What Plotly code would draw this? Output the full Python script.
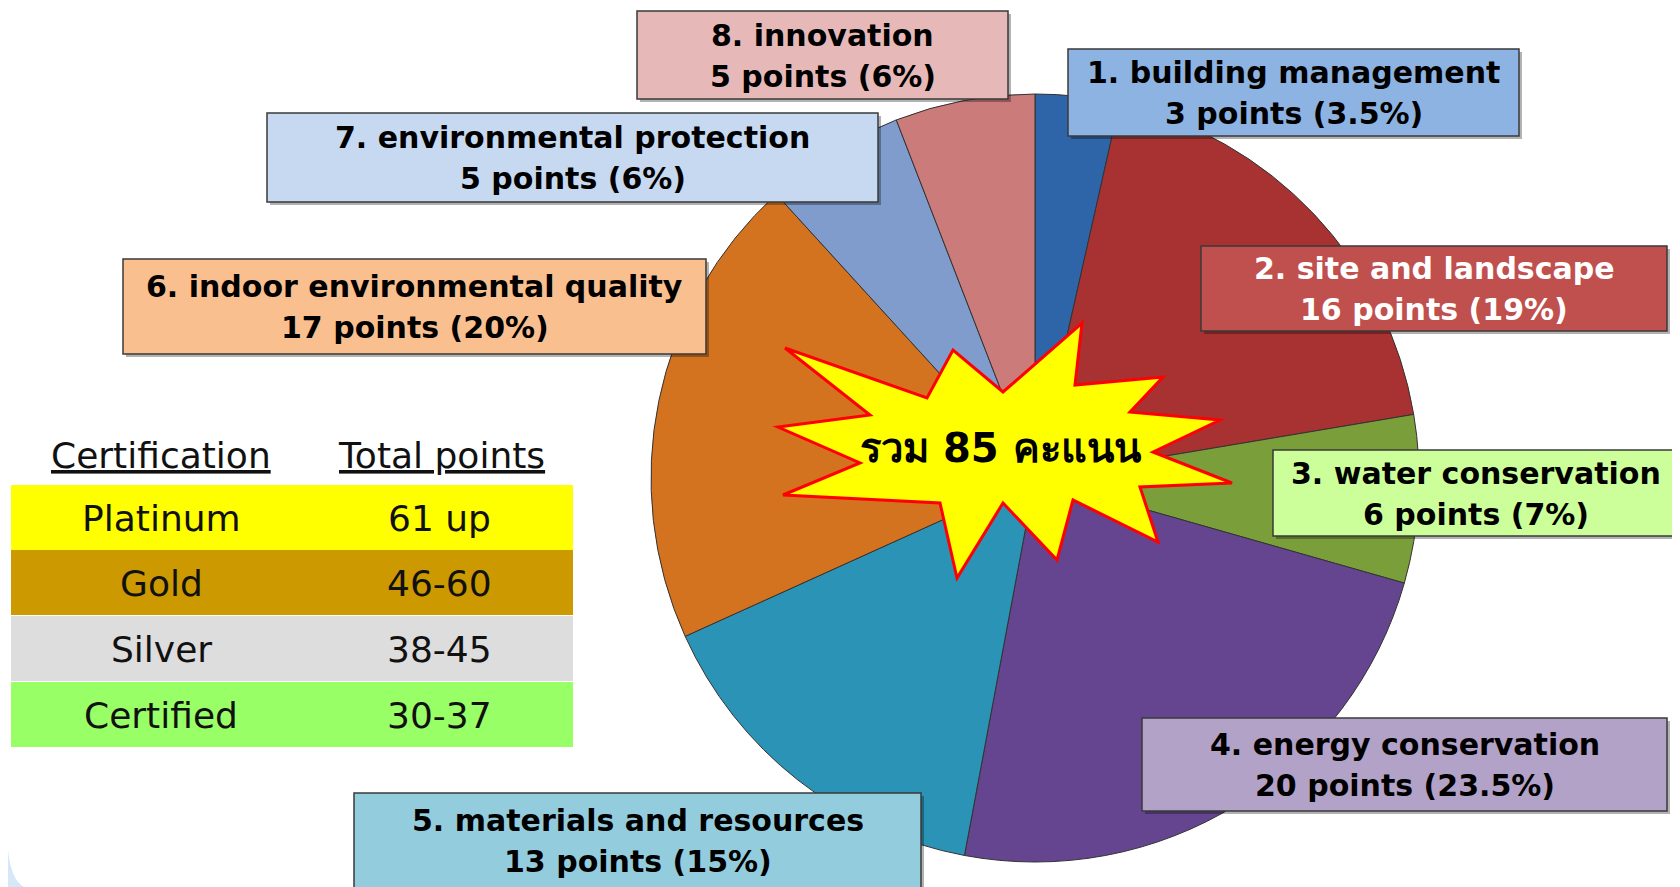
import plotly.graph_objects as go

# data
categories = ["1. building management", "2. site and landscape", "3. water conservation",
              "4. energy conservation", "5. materials and resources",
              "6. indoor environmental quality", "7. environmental protection", "8. innovation"]
points = [3, 16, 6, 20, 13, 17, 5, 5]
percent_labels = ["3.5%", "19%", "7%", "23.5%", "15%", "20%", "6%", "6%"]

cert_levels = ["Platinum", "Gold", "Silver", "Certified"]
cert_points = ["61 up", "46-60", "38-45", "30-37"]
total_label = "รวม 85 คะแนน"

W, H = 1680, 887
OFF = 8  # page body margin, so axis coords equal window pixels
FW, FH = W - OFF, H - OFF

slice_colors = ["#2e64a8", "#a83232", "#7a9e3a", "#654590", "#2b93b5", "#d4731f", "#7f9ccc", "#cc7b7b"]
box_fills = ["#8db3e2", "#c0504d", "#ccff99", "#b3a2c7", "#93cddd", "#fabf8f", "#c6d9f1", "#e6b9b8"]
box_text_colors = ["black", "white", "black", "black", "black", "black", "black", "black"]
# label boxes in window pixels: x0, y0, x1, y1
boxes = [(1068, 49, 1519, 136), (1201, 246, 1667, 331), (1273, 450, 1678, 536),
         (1142, 718, 1667, 811), (354, 793, 921, 892), (123, 259, 706, 354),
         (267, 113, 878, 202), (637, 11, 1008, 99)]
row_fills = ["#ffff00", "#cc9900", "#dddddd", "#99ff66"]

cx, cy, r = 1035, 478, 384

fig = go.Figure()
fig.add_trace(go.Pie(
    labels=categories, values=points, sort=False, direction="clockwise", rotation=0,
    marker=dict(colors=slice_colors, line=dict(color="#333333", width=1)),
    textinfo="none", hoverinfo="label+value", showlegend=False,
    domain=dict(x=[(cx - r - OFF) / FW, (cx + r - OFF) / FW],
                y=[1 - (cy + r - OFF) / FH, 1 - (cy - r - OFF) / FH]),
))

shapes = []
annotations = []
font_box = dict(family="DejaVu Sans", size=30, weight="bold")

for i, name in enumerate(categories):
    x0, y0, x1, y1 = boxes[i]
    shapes.append(dict(type="rect", xref="x", yref="y", x0=x0 + 3, y0=y0 + 3, x1=x1 + 3, y1=y1 + 3,
                       fillcolor="rgba(0,0,0,0.3)", line=dict(width=0), layer="above"))
    shapes.append(dict(type="rect", xref="x", yref="y", x0=x0, y0=y0, x1=x1, y1=y1,
                       fillcolor=box_fills[i], line=dict(color="#3a3a3a", width=1.5), layer="above"))
    ym = (min(y1, 887) + y0) / 2 if i != 4 else (y0 + 887) / 2
    for k, line in enumerate([name, f"{points[i]} points ({percent_labels[i]})"]):
        annotations.append(dict(x=(x0 + x1) / 2, y=ym + (-20 if k == 0 else 21), xref="x", yref="y",
                                text=line, showarrow=False,
                                font=dict(font_box, color=box_text_colors[i])))

# certification table
tx0, tx1 = 11, 573
row_top = [485, 550, 616, 682]
row_h = 65
font_tab = dict(family="DejaVu Sans", size=36, color="#111111")
annotations.append(dict(x=161, y=455, xref="x", yref="y", text="<u>Certification</u>",
                        showarrow=False, font=font_tab))
annotations.append(dict(x=441, y=455, xref="x", yref="y", text="<u>Total points</u>",
                        showarrow=False, font=font_tab))
for i, lvl in enumerate(cert_levels):
    shapes.append(dict(type="rect", xref="x", yref="y", x0=tx0, x1=tx1, y0=row_top[i],
                       y1=row_top[i] + row_h, fillcolor=row_fills[i], line=dict(width=0), layer="above"))
    annotations.append(dict(x=161, y=row_top[i] + row_h / 2 + 1, xref="x", yref="y", text=lvl,
                            showarrow=False, font=font_tab))
    annotations.append(dict(x=439, y=row_top[i] + row_h / 2 + 1, xref="x", yref="y", text=cert_points[i],
                            showarrow=False, font=font_tab))

# starburst
star = [(785, 348), (927, 398), (953, 350), (1003, 392), (1082, 323), (1075, 385),
        (1163, 377), (1130, 412), (1220, 420), (1153, 452), (1232, 483), (1140, 487),
        (1158, 542), (1073, 500), (1057, 560), (1003, 503), (957, 578), (940, 503),
        (783, 495), (860, 463), (778, 427), (870, 415)]
path = "M " + " L ".join(f"{x},{y}" for x, y in star) + " Z"
shapes.append(dict(type="path", xref="x", yref="y", path=path, fillcolor="#ffff00",
                   line=dict(color="#ff0000", width=3), layer="above"))
annotations.append(dict(x=1000, y=448, xref="x", yref="y", text=total_label, showarrow=False,
                        font=dict(family="DejaVu Sans, Noto Sans, sans-serif", size=40,
                                  weight="bold", color="black")))

# faint decoration bottom-left corner
shapes.append(dict(type="path", xref="x", yref="y", path="M 8,850 Q 11,880 24,887 L 8,887 Z",
                   fillcolor="#d6e8f7", line=dict(width=0), layer="below"))

fig.update_layout(
    width=FW, height=FH, margin=dict(l=0, r=0, t=0, b=0),
    paper_bgcolor="white", plot_bgcolor="white",
    xaxis=dict(range=[OFF, W], visible=False, fixedrange=True),
    yaxis=dict(range=[H, OFF], visible=False, fixedrange=True),
    shapes=shapes, annotations=annotations,
)

fig.write_html("out.html")
